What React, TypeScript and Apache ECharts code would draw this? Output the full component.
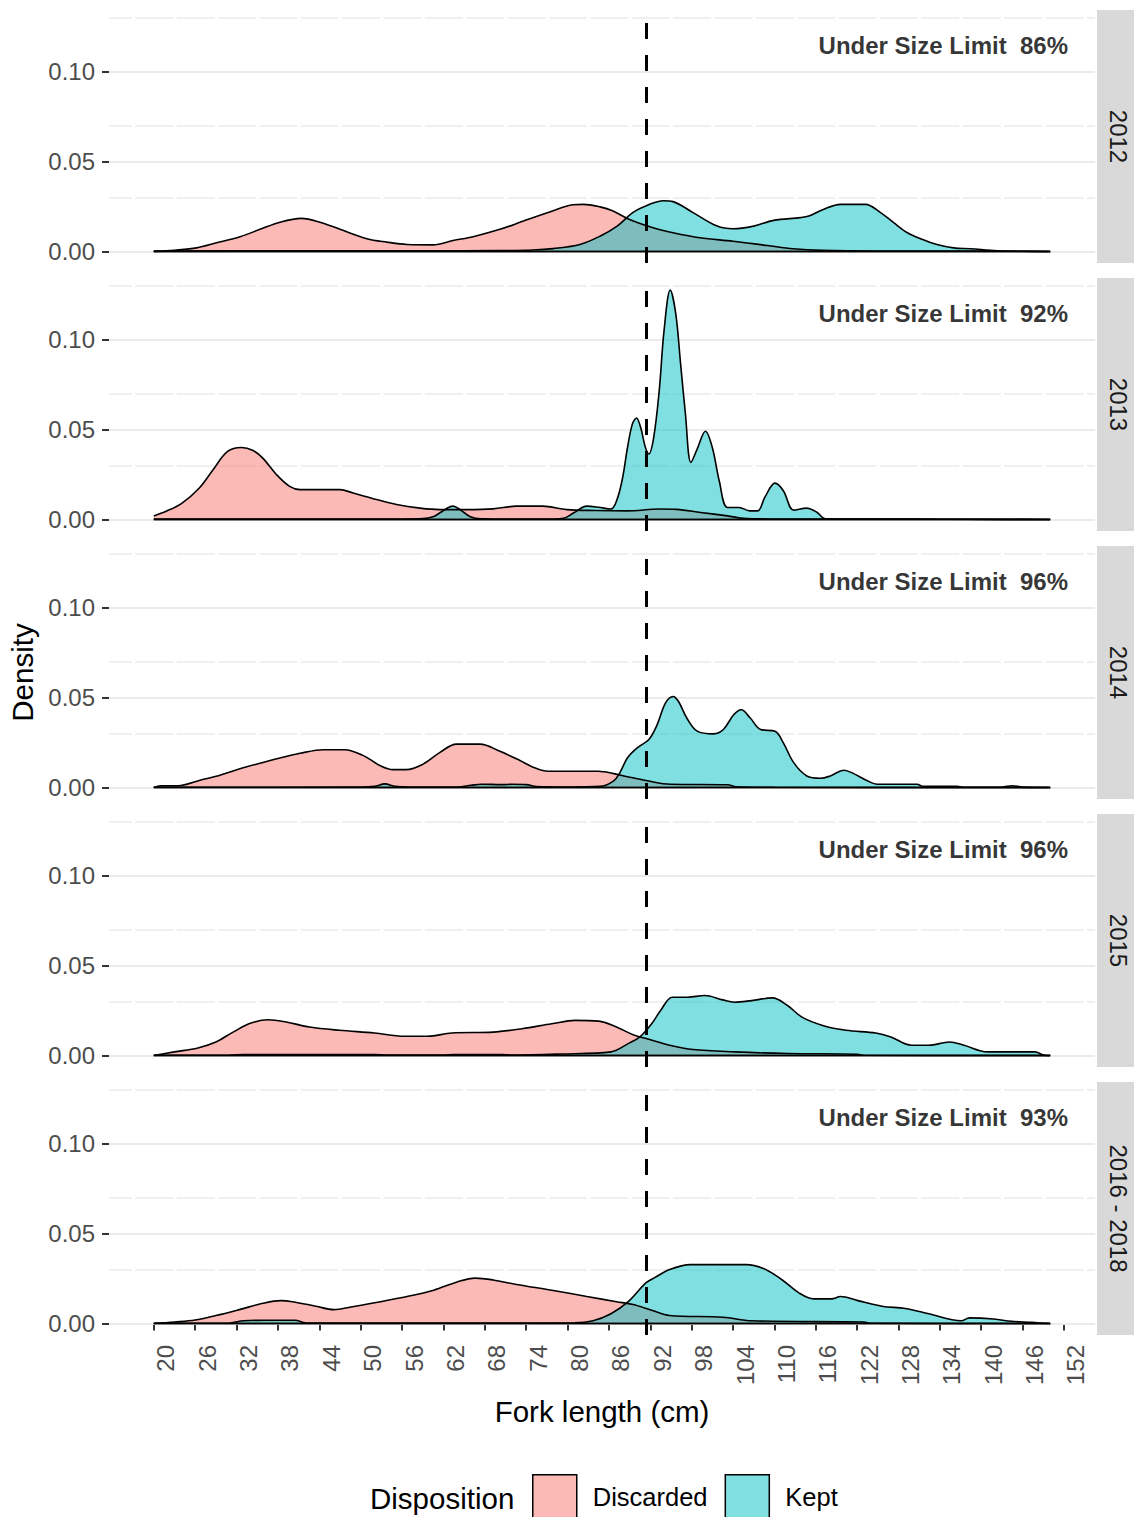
import React, { useEffect, useRef } from "react";
import * as echarts from "echarts";

// ---- data ---------------------------------------------------------------
const panelLabels = ["2012", "2013", "2014", "2015", "2016 - 2018"];
const underLimitPct = [86, 92, 96, 96, 93];
const sizeLimit = 91.44; // 36 in. minimum size, in cm

const xTicks = [20, 26, 32, 38, 44, 50, 56, 62, 68, 74, 80, 86, 92, 98, 104, 110, 116, 122, 128, 134, 140, 146, 152];
const yTicks = [0, 0.05, 0.1];
const yMinorLines = [0.025, 0.075, 0.125];

// density estimates, [fork length (cm), density]
const discarded2012 = [
  [20, 0], [23, 0.0007], [26.2, 0.002], [29.1, 0.0048], [32.5, 0.0082], [35.4, 0.0123], [38.3, 0.0163],
  [41.4, 0.0184], [44.1, 0.0163], [47, 0.0123], [50.9, 0.0071], [53.8, 0.0052], [56.7, 0.0039], [60.5, 0.0037],
  [63.4, 0.0061], [66.3, 0.0082], [70.2, 0.0123], [73.6, 0.0169], [77.5, 0.0221], [80.8, 0.026], [82.3, 0.0262],
  [84.7, 0.0248], [86.6, 0.0225], [89, 0.0178], [92.4, 0.0132], [95.3, 0.0104], [99.2, 0.0076], [104, 0.0057],
  [109, 0.0033], [112.7, 0.0015], [117, 0.0006], [125, 0.0003], [135, 0.0003], [142, 0.0002], [150, 0],
];
const kept2012 = [
  [20, 0.0002], [40, 0.0004], [60, 0.0004], [70, 0.0005], [75, 0.0008], [77.9, 0.0016], [81.8, 0.0039],
  [84.7, 0.0085], [87.2, 0.0141], [89.5, 0.0217], [91.5, 0.0256], [93.9, 0.0282], [95.3, 0.0277], [98.2, 0.0216],
  [101.7, 0.0141], [104, 0.0126], [107, 0.0141], [109.9, 0.0173], [113.8, 0.0188], [115, 0.0197], [117.1, 0.0234],
  [119.6, 0.0262], [123.2, 0.0262], [125.4, 0.0216], [127.3, 0.016], [129.3, 0.0104], [131.2, 0.0071],
  [133.6, 0.0039], [136, 0.002], [138.4, 0.0015], [142.3, 0.0004], [146, 0.0001], [150, 0],
];

const discarded2013 = [
  [20, 0.002], [21.8, 0.0046], [24, 0.0088], [26.6, 0.0175], [28.6, 0.0277], [30.7, 0.0378], [32.7, 0.04],
  [34.4, 0.0383], [35.8, 0.0341], [37.8, 0.0249], [39.7, 0.0184], [41.2, 0.0166], [47, 0.0166], [48.9, 0.0147],
  [52.3, 0.0111], [55.2, 0.0083], [58.6, 0.0063], [61.5, 0.0055], [65.4, 0.0055], [69.2, 0.0059], [72.6, 0.0074],
  [76.4, 0.0074], [79.9, 0.0055], [84, 0.005], [88.6, 0.0048], [93.4, 0.0058], [95.8, 0.0056], [99.3, 0.0039],
  [103.2, 0.002], [105.5, 0.0007], [110, 0.0003], [130, 0.0002], [138, 0.0001], [150, 0],
];
const kept2013 = [
  [20, 0.0003], [40, 0.0003], [56, 0.0003], [59, 0.0005], [60.5, 0.0015], [61.5, 0.0037], [63.4, 0.0074],
  [64.4, 0.0055], [65.9, 0.0015], [67.5, 0.0004], [72, 0.0003], [78, 0.0003], [79.4, 0.0006], [80.9, 0.0037],
  [82.8, 0.0074], [84.5, 0.0068], [86.3, 0.0058], [87.2, 0.0113], [88, 0.0234], [88.7, 0.04], [89.4, 0.053],
  [90, 0.0564], [90.6, 0.0512], [91.3, 0.04], [91.8, 0.0364], [92.5, 0.0456], [93.3, 0.0716], [94, 0.105],
  [94.9, 0.1275], [95.7, 0.1143], [96.4, 0.0865], [97.1, 0.0586], [97.9, 0.0317], [98.8, 0.0391], [100, 0.049],
  [101, 0.04], [102, 0.0215], [103.2, 0.0067], [104.9, 0.0067], [106.4, 0.0048], [107.6, 0.0048], [108.6, 0.0122],
  [110.1, 0.0202], [111.3, 0.016], [112.8, 0.0052], [114.7, 0.0063], [116.2, 0.0039], [117.4, 0.0004],
  [125, 0.0002], [150, 0],
];

const discarded2014 = [
  [20, 0], [21, 0.001], [23.5, 0.001], [26.7, 0.004], [29.6, 0.0068], [32.5, 0.0104], [35.4, 0.0135],
  [38.3, 0.0164], [41.2, 0.019], [44.6, 0.021], [47.7, 0.021], [50.4, 0.0177], [52.8, 0.0122], [54.7, 0.0099],
  [56.6, 0.0099], [59.1, 0.0131], [61.5, 0.0195], [63.9, 0.0241], [67.3, 0.0241], [70.2, 0.0201], [73.1, 0.015],
  [75, 0.0113], [77.2, 0.009], [84.5, 0.009], [86.7, 0.0077], [88.7, 0.006], [91.6, 0.0037], [94.9, 0.0018],
  [103.2, 0.0015], [104.5, 0.0004], [110, 0.0001], [150, 0],
];
const kept2014 = [
  [20, 0.0001], [50, 0.0002], [52, 0.0006], [53.5, 0.002], [55, 0.0006], [57, 0.0002], [64, 0.0003],
  [66, 0.0012], [67.5, 0.0018], [70.5, 0.0016], [72, 0.0018], [74, 0.0016], [75.5, 0.0005], [80, 0.0003],
  [84.7, 0.0006], [86.7, 0.0037], [87.6, 0.0083], [88.7, 0.0165], [90.1, 0.022], [91.8, 0.0267], [93, 0.0349],
  [94.2, 0.0469], [95.3, 0.0506], [96.1, 0.0478], [97.3, 0.0386], [98.8, 0.0313], [101.2, 0.0298],
  [102.6, 0.0322], [104.1, 0.0404], [105.2, 0.0432], [106.5, 0.0386], [108, 0.0322], [110.1, 0.0313],
  [111.3, 0.0248], [112.8, 0.0138], [114.7, 0.0064], [116.7, 0.0051], [118.1, 0.0064], [120.1, 0.0096],
  [121.5, 0.0077], [123.5, 0.0037], [124.9, 0.0018], [130.7, 0.0018], [131.5, 0.0007], [136.5, 0.0007],
  [137.5, 0.0001], [143, 0.0002], [144.5, 0.001], [146, 0.0002], [150, 0],
];

const discarded2015 = [
  [20, 0], [23, 0.002], [26.4, 0.0042], [29, 0.0075], [31.5, 0.013], [34.1, 0.018], [36.6, 0.0199],
  [39.2, 0.0186], [42.6, 0.0158], [46.9, 0.014], [52, 0.0125], [56.3, 0.0107], [59.7, 0.0107], [63.2, 0.0125],
  [69.2, 0.013], [73.4, 0.0149], [77.7, 0.0176], [81.1, 0.0195], [84.5, 0.0191], [87.1, 0.0158], [89.7, 0.0112],
  [91.4, 0.0094], [94.8, 0.0057], [98.2, 0.0033], [104.2, 0.002], [111.9, 0.0011], [122, 0.0007], [123, 0.0001],
  [150, 0],
];
const kept2015 = [
  [20, 0.0001], [31, 0.0002], [33, 0.0005], [52, 0.0005], [54, 0.0002], [62, 0.0002], [63.5, 0.0005],
  [70.5, 0.0005], [72, 0.0002], [79, 0.0008], [86.3, 0.002], [88.8, 0.0066], [90.5, 0.0103], [92.2, 0.0176],
  [93.5, 0.025], [95.2, 0.0324], [97.4, 0.0324], [99.9, 0.0333], [102.5, 0.0309], [104.2, 0.0296],
  [106.7, 0.0305], [109.7, 0.032], [111.9, 0.0278], [114, 0.0213], [117, 0.0167], [120.4, 0.014],
  [124.7, 0.0125], [126.9, 0.0103], [129.9, 0.0057], [132.4, 0.0057], [135.4, 0.0075], [137.5, 0.0057],
  [140.9, 0.002], [147.8, 0.002], [149, 0.0003], [150, 0],
];

const discarded2016to2018 = [
  [20, 0], [23, 0.0008], [26, 0.0019], [29, 0.0044], [32.4, 0.0077], [35.8, 0.0112], [38.4, 0.0127],
  [40.1, 0.0121], [43.5, 0.0096], [46.1, 0.0077], [48.6, 0.0092], [52.9, 0.0121], [57.2, 0.0154], [60.6, 0.0185],
  [64, 0.0231], [66.6, 0.0252], [69.2, 0.0242], [72.6, 0.0217], [77.7, 0.0185], [82.8, 0.015], [87.1, 0.0121],
  [89.5, 0.0105], [92.2, 0.0073], [94.8, 0.0044], [102.5, 0.0035], [106.7, 0.0015], [123, 0.0008],
  [124, 0.0001], [150, 0],
];
const kept2016to2018 = [
  [20, 0.0001], [31, 0.0003], [33, 0.0015], [36, 0.0018], [40.5, 0.0018], [42, 0.0004], [60, 0.0002],
  [81, 0.0004], [83.7, 0.0015], [86.3, 0.0054], [88.8, 0.0121], [91.4, 0.0227], [92.7, 0.0256], [94.8, 0.03],
  [97.8, 0.0327], [105.9, 0.0327], [108.5, 0.0304], [111, 0.0246], [113.6, 0.0169], [115.7, 0.0137],
  [118.3, 0.0137], [119.6, 0.015], [122.1, 0.0127], [125.6, 0.0096], [129, 0.0083], [132.4, 0.0054],
  [137.1, 0.0015], [138.3, 0.0031], [141.8, 0.0025], [144.4, 0.0012], [147.4, 0.0006], [149, 0.0001], [150, 0],
];

const discardedByPanel = [discarded2012, discarded2013, discarded2014, discarded2015, discarded2016to2018];
const keptByPanel = [kept2012, kept2013, kept2014, kept2015, kept2016to2018];

// ---- layout & style -----------------------------------------------------
const W = 1134;
const H = 1517;
const PANEL_LEFT = 109;
const PANEL_W = 986;
const PANEL_TOP = 10;
const PANEL_H = 253;
const PANEL_STEP = 268;
const STRIP_GAP = 2;
const STRIP_W = 42;

const X_MIN = 13.5;
const X_MAX = 156.5;
const Y_MIN = -0.0064;
const Y_MAX = 0.1342;

const FONT = "'Liberation Sans', Arial, Helvetica, sans-serif";
const DISCARDED_FILL = "rgba(248,118,109,0.5)";
const KEPT_FILL = "rgba(0,191,196,0.5)";
const GRID_COLOR = "#EBEBEB";
const TICK_COLOR = "#333333";
const TICK_LABEL_COLOR = "#4D4D4D";
const OUTLINE_WIDTH = 1.6;

// minor grid lines are broken where the (blank) minor x grid would sit
const xPx = PANEL_W / (X_MAX - X_MIN);
const minorPeriod = 6 * xPx;
const minorGap = 3.5;
const firstGapStart = (17 - X_MIN) * xPx - minorGap / 2;
const minorDashOffset = (minorPeriod - minorGap) - firstGapStart;

function buildOption() {
  const grid: any[] = [];
  const xAxis: any[] = [];
  const yAxis: any[] = [];
  const series: any[] = [];
  const graphic: any[] = [];

  panelLabels.forEach((label, i) => {
    const top = PANEL_TOP + i * PANEL_STEP;
    const isBottom = i === panelLabels.length - 1;
    grid.push({ left: PANEL_LEFT, width: PANEL_W, top, height: PANEL_H, containLabel: false, outerBoundsMode: "none" });

    xAxis.push({
      type: "value",
      gridIndex: i,
      min: X_MIN,
      max: X_MAX,
      show: isBottom,
      axisLine: { show: false },
      axisTick: { show: true, customValues: xTicks, length: 7, lineStyle: { color: TICK_COLOR, width: 2 } },
      axisLabel: {
        show: true,
        customValues: xTicks,
        rotate: 90,
        align: "right",
        verticalAlign: "top",
        margin: 10,
        fontSize: 24,
        lineHeight: 24,
        color: TICK_LABEL_COLOR,
        fontFamily: FONT,
      },
      splitLine: { show: false },
      name: isBottom ? "Fork length (cm)" : "",
      nameLocation: "middle",
      nameGap: 61,
      nameTextStyle: { fontSize: 29.5, color: "#000", fontFamily: FONT },
    });

    yAxis.push({
      type: "value",
      gridIndex: i,
      min: Y_MIN,
      max: Y_MAX,
      axisLine: { show: false },
      axisTick: { show: true, customValues: yTicks, length: 7, lineStyle: { color: TICK_COLOR, width: 2 } },
      axisLabel: {
        show: true,
        customValues: yTicks,
        formatter: (v: number) => v.toFixed(2),
        margin: 14,
        fontSize: 24,
        color: TICK_LABEL_COLOR,
        fontFamily: FONT,
      },
      splitLine: { show: false },
      name: i === 2 ? "Density" : "",
      nameLocation: "middle",
      nameGap: 64,
      nameTextStyle: { fontSize: 29.5, color: "#000", fontFamily: FONT },
    });

    const gridLines = [
      ...yTicks.map((v) => ({ yAxis: v, lineStyle: { color: GRID_COLOR, width: 1.8, type: "solid" } })),
      ...yMinorLines.map((v) => ({
        yAxis: v,
        lineStyle: { color: GRID_COLOR, width: 1.6, type: [minorPeriod - minorGap, minorGap], dashOffset: minorDashOffset },
      })),
    ];

    const disc = discardedByPanel[i];
    const kept = keptByPanel[i];

    series.push({
      type: "line",
      name: "Discarded",
      xAxisIndex: i,
      yAxisIndex: i,
      data: disc,
      smooth: 0.35,
      symbol: "none",
      z: 2,
      silent: true,
      lineStyle: { color: "#000", width: OUTLINE_WIDTH },
      areaStyle: { color: DISCARDED_FILL, opacity: 1 },
      markLine: {
        silent: true,
        symbol: "none",
        z: 1,
        label: { show: false },
        data: gridLines,
      },
    });

    series.push({
      type: "line",
      name: "Kept",
      xAxisIndex: i,
      yAxisIndex: i,
      data: kept,
      smooth: 0.35,
      symbol: "none",
      z: 2,
      silent: true,
      lineStyle: { color: "#000", width: OUTLINE_WIDTH },
      areaStyle: { color: KEPT_FILL, opacity: 1 },
      markLine: {
        silent: true,
        symbol: "none",
        z: 5,
        label: { show: false },
        data: [{ xAxis: sizeLimit, lineStyle: { color: "#000", width: 3, type: [16, 16] } }],
      },
    });

    // closing outline of each density along the zero line
    [disc, kept].forEach((d) => {
      series.push({
        type: "line",
        xAxisIndex: i,
        yAxisIndex: i,
        data: [[d[0][0], 0], [d[d.length - 1][0], 0]],
        symbol: "none",
        z: 3,
        silent: true,
        lineStyle: { color: "#000", width: 1.7 },
      });
    });

    series.push({
      type: "scatter",
      xAxisIndex: i,
      yAxisIndex: i,
      data: [[134.5, 0.1142]],
      symbolSize: 1,
      itemStyle: { color: "rgba(0,0,0,0)" },
      z: 6,
      silent: true,
      label: {
        show: true,
        position: "inside",
        formatter: `Under Size Limit  ${underLimitPct[i]}%`,
        color: "#000",
        fontWeight: "bold",
        fontSize: 24,
        fontFamily: FONT,
      },
    });

    // facet strip on the right
    graphic.push({
      type: "rect",
      silent: true,
      shape: { x: PANEL_LEFT + PANEL_W + STRIP_GAP, y: top, width: STRIP_W, height: PANEL_H },
      style: { fill: "#D9D9D9" },
    });
    graphic.push({
      type: "text",
      silent: true,
      x: PANEL_LEFT + PANEL_W + STRIP_GAP + STRIP_W / 2,
      y: top + PANEL_H / 2,
      rotation: -Math.PI / 2,
      style: {
        text: label,
        fontSize: 24,
        fontFamily: FONT,
        fill: "#1A1A1A",
        align: "center",
        verticalAlign: "middle",
      },
    });
  });

  // legend title
  graphic.push({
    type: "text",
    silent: true,
    x: 370,
    y: 1498,
    style: {
      text: "Disposition",
      fontSize: 29.5,
      fontFamily: FONT,
      fill: "#000",
      align: "left",
      verticalAlign: "middle",
    },
  });

  return {
    animation: false,
    backgroundColor: "#ffffff",
    textStyle: { fontFamily: FONT },
    grid,
    xAxis,
    yAxis,
    series,
    graphic,
    legend: {
      left: 532,
      top: 1474,
      orient: "horizontal",
      itemWidth: 44,
      itemHeight: 44,
      itemGap: 17,
      padding: 0,
      selectedMode: false,
      textStyle: { fontSize: 25.5, color: "#000", fontFamily: FONT, padding: [0, 0, 0, 11] },
      data: [
        { name: "Discarded", icon: "rect", itemStyle: { color: DISCARDED_FILL, borderColor: "#000", borderWidth: 1.5 } },
        { name: "Kept", icon: "rect", itemStyle: { color: KEPT_FILL, borderColor: "#000", borderWidth: 1.5 } },
      ],
    },
  };
}

export default function App() {
  const ref = useRef<HTMLDivElement>(null);

  useEffect(() => {
    if (!ref.current) return;
    const chart = echarts.init(ref.current, undefined, { renderer: "svg" });
    chart.setOption(buildOption() as any);
    return () => chart.dispose();
  }, []);

  return (
    <div
      ref={ref}
      style={{ position: "absolute", left: 0, top: 0, width: W, height: H, background: "#fff" }}
    />
  );
}
